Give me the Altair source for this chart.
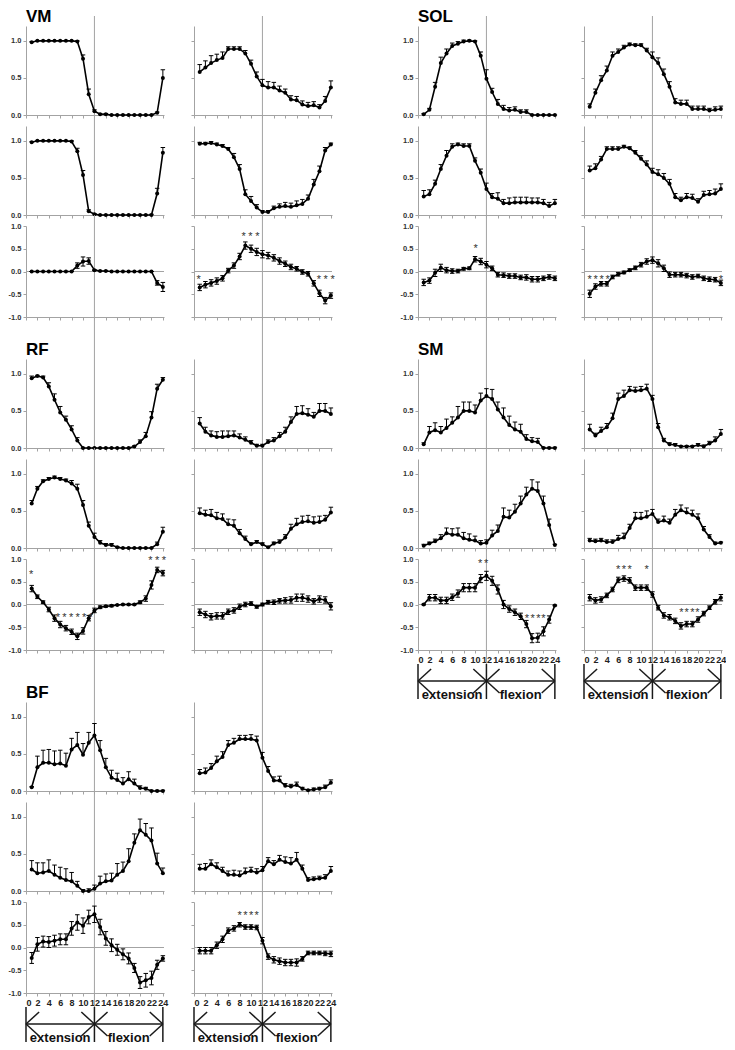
import altair as alt
import pandas as pd

# ---------------- data ----------------
X = list(range(1, 25))

# VM  (L = left column, R = right column; 1,2 = conditions, 3 = difference)
VM_L1 = [0.98,1.0,1.0,1.0,1.0,1.0,1.0,1.0,0.99,0.76,0.28,0.05,0.01,0.01,0.0,0.0,0.0,0.0,0.0,0.0,0.0,0.0,0.03,0.50]
VM_L1_E = [0.01,0.0,0.0,0.0,0.0,0.0,0.0,0.0,0.01,0.05,0.07,0.02,0.01,0.01,0.0,0.0,0.0,0.0,0.0,0.0,0.0,0.0,0.01,0.11]
VM_L2 = [0.98,1.0,1.0,1.0,1.0,1.0,1.0,0.99,0.86,0.54,0.05,0.01,0.0,0.0,0.0,0.0,0.0,0.0,0.0,0.0,0.0,0.0,0.29,0.84]
VM_L2_E = [0.01,0.0,0.0,0.0,0.0,0.0,0.0,0.01,0.04,0.06,0.02,0.01,0.0,0.0,0.0,0.0,0.0,0.0,0.0,0.0,0.0,0.01,0.07,0.07]
VM_L3 = [0.0,0.0,0.0,0.0,0.0,0.0,0.0,0.0,0.13,0.22,0.23,0.03,0.01,0.01,0.0,0.0,0.0,0.0,0.0,0.0,0.0,0.0,-0.25,-0.34]
VM_L3_E = [0.0,0.0,0.0,0.0,0.0,0.0,0.0,0.0,0.06,0.10,0.07,0.01,0.0,0.0,0.0,0.0,0.0,0.0,0.0,0.0,0.0,0.0,0.05,0.10]
VM_R1 = [0.58,0.64,0.70,0.74,0.77,0.89,0.89,0.89,0.83,0.69,0.52,0.40,0.37,0.37,0.33,0.30,0.21,0.20,0.14,0.12,0.13,0.10,0.19,0.37]
VM_R1_E = [0.10,0.09,0.10,0.08,0.08,0.03,0.03,0.03,0.04,0.05,0.06,0.08,0.08,0.07,0.06,0.05,0.05,0.05,0.05,0.05,0.05,0.04,0.06,0.09]
VM_R2 = [0.96,0.96,0.97,0.95,0.93,0.89,0.78,0.62,0.28,0.19,0.10,0.04,0.04,0.09,0.11,0.12,0.11,0.13,0.15,0.22,0.41,0.59,0.87,0.95]
VM_R2_E = [0.02,0.02,0.02,0.02,0.02,0.02,0.05,0.06,0.06,0.06,0.04,0.02,0.02,0.03,0.04,0.05,0.05,0.06,0.06,0.05,0.07,0.07,0.04,0.02]
VM_R3 = [-0.35,-0.29,-0.25,-0.21,-0.15,0.02,0.13,0.33,0.57,0.50,0.43,0.38,0.35,0.30,0.23,0.17,0.10,0.06,-0.01,-0.05,-0.26,-0.48,-0.64,-0.53]
VM_R3_E = [0.07,0.07,0.07,0.07,0.06,0.05,0.06,0.07,0.08,0.08,0.08,0.08,0.07,0.07,0.07,0.06,0.06,0.05,0.05,0.05,0.06,0.07,0.07,0.06]
VM_R3_STAR_X = [0.8, 8.7, 9.9, 11.1, 21.9, 23.1, 24.3]
VM_R3_STAR_Y = [-0.13, 0.82, 0.82, 0.82, -0.13, -0.13, -0.13]

# SOL
SOL_L1 = [0.01,0.07,0.38,0.70,0.83,0.93,0.96,0.99,1.0,0.99,0.80,0.49,0.31,0.15,0.08,0.06,0.07,0.04,0.04,0.0,0.0,0.0,0.0,0.0]
SOL_L1_E = [0.01,0.02,0.06,0.08,0.06,0.04,0.03,0.02,0.01,0.01,0.05,0.12,0.05,0.06,0.05,0.04,0.04,0.03,0.03,0.0,0.0,0.0,0.0,0.0]
SOL_L2 = [0.25,0.28,0.42,0.62,0.80,0.92,0.95,0.93,0.93,0.73,0.57,0.35,0.24,0.22,0.16,0.16,0.17,0.17,0.17,0.17,0.17,0.16,0.12,0.16]
SOL_L2_E = [0.08,0.06,0.05,0.06,0.07,0.04,0.02,0.03,0.03,0.04,0.05,0.08,0.05,0.08,0.05,0.07,0.07,0.07,0.07,0.06,0.06,0.05,0.05,0.05]
SOL_L3 = [-0.24,-0.20,-0.03,0.08,0.03,0.01,0.01,0.06,0.07,0.27,0.22,0.15,0.07,-0.07,-0.08,-0.10,-0.10,-0.13,-0.13,-0.17,-0.17,-0.15,-0.12,-0.15]
SOL_L3_E = [0.07,0.06,0.08,0.08,0.06,0.05,0.04,0.03,0.03,0.06,0.07,0.07,0.05,0.05,0.05,0.05,0.05,0.05,0.06,0.06,0.06,0.05,0.05,0.05]
SOL_L3_STAR_X = [10.1]
SOL_L3_STAR_Y = [0.57]
SOL_R1 = [0.11,0.30,0.47,0.60,0.80,0.85,0.91,0.95,0.94,0.94,0.87,0.78,0.70,0.55,0.38,0.17,0.15,0.15,0.08,0.08,0.08,0.06,0.07,0.08]
SOL_R1_E = [0.04,0.05,0.06,0.06,0.05,0.04,0.03,0.02,0.02,0.02,0.03,0.07,0.07,0.07,0.07,0.05,0.05,0.05,0.04,0.04,0.04,0.03,0.04,0.04]
SOL_R2 = [0.60,0.63,0.75,0.89,0.89,0.89,0.92,0.90,0.84,0.76,0.68,0.58,0.55,0.50,0.42,0.24,0.20,0.24,0.23,0.18,0.27,0.28,0.29,0.35]
SOL_R2_E = [0.06,0.06,0.04,0.03,0.03,0.03,0.02,0.02,0.03,0.04,0.05,0.05,0.06,0.06,0.06,0.05,0.04,0.05,0.05,0.04,0.05,0.05,0.06,0.07]
SOL_R3 = [-0.49,-0.33,-0.27,-0.27,-0.12,-0.06,-0.02,0.03,0.08,0.15,0.22,0.25,0.18,0.07,-0.07,-0.07,-0.07,-0.09,-0.12,-0.10,-0.15,-0.17,-0.18,-0.25]
SOL_R3_E = [0.08,0.06,0.05,0.05,0.04,0.04,0.03,0.03,0.04,0.05,0.06,0.07,0.08,0.07,0.06,0.05,0.05,0.05,0.05,0.04,0.05,0.05,0.05,0.06]
SOL_R3_STAR_X = [1.0, 2.05, 3.1, 4.15, 24.0]
SOL_R3_STAR_Y = [-0.12, -0.12, -0.12, -0.12, -0.12]

# RF
RF_L1 = [0.94,0.97,0.95,0.83,0.65,0.48,0.38,0.25,0.10,0.0,0.0,0.0,0.0,0.0,0.0,0.0,0.0,0.0,0.02,0.08,0.16,0.41,0.80,0.92]
RF_L1_E = [0.03,0.01,0.02,0.05,0.08,0.08,0.05,0.05,0.04,0.0,0.0,0.0,0.0,0.0,0.0,0.0,0.0,0.0,0.01,0.03,0.05,0.08,0.06,0.03]
RF_L2 = [0.60,0.80,0.90,0.93,0.95,0.93,0.91,0.87,0.80,0.58,0.30,0.15,0.07,0.04,0.04,0.01,0.0,0.0,0.0,0.0,0.0,0.0,0.05,0.22]
RF_L2_E = [0.04,0.03,0.02,0.02,0.02,0.02,0.02,0.04,0.06,0.06,0.05,0.05,0.03,0.02,0.02,0.01,0.0,0.0,0.0,0.0,0.0,0.0,0.03,0.06]
RF_L3 = [0.35,0.17,0.05,-0.11,-0.30,-0.44,-0.52,-0.60,-0.70,-0.58,-0.30,-0.13,-0.06,-0.04,-0.03,-0.01,0.0,0.0,0.0,0.05,0.13,0.43,0.76,0.69]
RF_L3_E = [0.07,0.04,0.03,0.05,0.07,0.07,0.06,0.06,0.07,0.07,0.06,0.05,0.03,0.02,0.02,0.01,0.01,0.01,0.01,0.03,0.06,0.09,0.06,0.06]
RF_L3_STAR_X = [0.9, 5.6, 6.75, 7.9, 9.05, 10.2, 11.35, 21.8, 23.0, 24.2]
RF_L3_STAR_Y = [0.71, -0.24, -0.24, -0.24, -0.24, -0.24, -0.24, 1.03, 1.03, 1.03]
RF_R1 = [0.33,0.22,0.17,0.15,0.15,0.16,0.17,0.14,0.11,0.07,0.03,0.03,0.08,0.10,0.16,0.22,0.35,0.46,0.47,0.45,0.42,0.50,0.50,0.46]
RF_R1_E = [0.08,0.06,0.06,0.07,0.08,0.07,0.06,0.05,0.04,0.03,0.02,0.02,0.03,0.04,0.05,0.06,0.07,0.10,0.10,0.08,0.06,0.10,0.10,0.08]
RF_R2 = [0.47,0.45,0.44,0.40,0.39,0.32,0.30,0.20,0.12,0.05,0.08,0.05,0.01,0.06,0.08,0.14,0.26,0.32,0.35,0.36,0.34,0.35,0.38,0.48]
RF_R2_E = [0.07,0.06,0.08,0.08,0.07,0.07,0.08,0.05,0.04,0.02,0.02,0.02,0.01,0.02,0.03,0.04,0.06,0.08,0.08,0.08,0.08,0.08,0.06,0.07]
RF_R3 = [-0.17,-0.22,-0.27,-0.25,-0.25,-0.16,-0.13,-0.05,0.0,0.02,-0.05,0.0,0.05,0.05,0.08,0.09,0.10,0.15,0.15,0.12,0.07,0.12,0.10,-0.04]
RF_R3_E = [0.07,0.07,0.07,0.07,0.07,0.06,0.06,0.06,0.05,0.04,0.03,0.03,0.04,0.05,0.05,0.06,0.07,0.08,0.08,0.07,0.06,0.07,0.07,0.08]

# SM
SM_L1 = [0.05,0.21,0.24,0.21,0.27,0.34,0.41,0.50,0.50,0.48,0.64,0.70,0.66,0.52,0.41,0.31,0.25,0.22,0.12,0.09,0.08,0.0,0.0,0.0]
SM_L1_E = [0.02,0.08,0.10,0.08,0.12,0.08,0.15,0.12,0.12,0.10,0.10,0.10,0.13,0.10,0.13,0.12,0.10,0.10,0.06,0.05,0.05,0.01,0.01,0.01]
SM_L2 = [0.03,0.06,0.09,0.13,0.20,0.18,0.18,0.13,0.11,0.10,0.06,0.07,0.17,0.23,0.42,0.41,0.49,0.60,0.72,0.80,0.77,0.60,0.31,0.04]
SM_L2_E = [0.02,0.02,0.03,0.05,0.07,0.08,0.09,0.08,0.08,0.06,0.04,0.04,0.07,0.08,0.12,0.10,0.10,0.10,0.10,0.12,0.12,0.10,0.08,0.01]
SM_L3 = [0.0,0.15,0.15,0.09,0.09,0.16,0.24,0.37,0.37,0.37,0.57,0.63,0.52,0.33,0.0,-0.10,-0.17,-0.26,-0.43,-0.74,-0.73,-0.59,-0.33,-0.02]
SM_L3_E = [0.01,0.07,0.07,0.07,0.07,0.07,0.08,0.09,0.09,0.09,0.09,0.10,0.10,0.10,0.09,0.07,0.07,0.07,0.08,0.10,0.10,0.10,0.08,0.01]
SM_L3_STAR_X = [10.9, 11.95, 19.1, 20.1, 21.1, 22.0]
SM_L3_STAR_Y = [0.95, 0.95, -0.25, -0.25, -0.25, -0.25]
SM_R1 = [0.25,0.17,0.23,0.28,0.40,0.66,0.70,0.78,0.77,0.78,0.80,0.66,0.28,0.10,0.05,0.04,0.02,0.02,0.02,0.04,0.02,0.06,0.10,0.19]
SM_R1_E = [0.07,0.03,0.05,0.05,0.07,0.08,0.08,0.05,0.05,0.05,0.06,0.05,0.05,0.03,0.02,0.02,0.01,0.01,0.01,0.02,0.02,0.03,0.05,0.06]
SM_R2 = [0.10,0.09,0.10,0.08,0.08,0.12,0.14,0.27,0.40,0.40,0.42,0.46,0.35,0.37,0.34,0.45,0.51,0.48,0.45,0.40,0.25,0.15,0.06,0.07]
SM_R2_E = [0.03,0.03,0.03,0.03,0.03,0.05,0.06,0.05,0.08,0.08,0.08,0.06,0.04,0.06,0.05,0.07,0.07,0.06,0.06,0.06,0.04,0.03,0.02,0.01]
SM_R3 = [0.15,0.09,0.11,0.20,0.33,0.54,0.57,0.53,0.37,0.37,0.37,0.22,-0.07,-0.24,-0.28,-0.36,-0.47,-0.43,-0.43,-0.33,-0.20,-0.07,0.06,0.15]
SM_R3_E = [0.07,0.06,0.06,0.05,0.05,0.06,0.06,0.06,0.06,0.06,0.06,0.06,0.05,0.06,0.06,0.06,0.07,0.06,0.06,0.06,0.05,0.04,0.05,0.07]
SM_R3_STAR_X = [6.0, 7.0, 8.0, 11.0, 17.1, 18.0, 19.0, 19.9]
SM_R3_STAR_Y = [0.82, 0.82, 0.82, 0.82, -0.12, -0.12, -0.12, -0.12]

# BF
BF_L1 = [0.05,0.32,0.38,0.38,0.36,0.37,0.34,0.56,0.62,0.49,0.65,0.75,0.55,0.32,0.18,0.15,0.10,0.16,0.10,0.04,0.03,0.0,0.0,0.0]
BF_L1_E = [0.01,0.15,0.17,0.18,0.18,0.18,0.17,0.15,0.17,0.15,0.14,0.16,0.13,0.12,0.10,0.09,0.08,0.10,0.06,0.03,0.02,0.01,0.01,0.01]
BF_L2 = [0.29,0.24,0.25,0.27,0.22,0.18,0.15,0.13,0.07,0.0,0.0,0.03,0.10,0.13,0.14,0.22,0.27,0.40,0.65,0.82,0.76,0.68,0.37,0.24]
BF_L2_E = [0.12,0.14,0.13,0.15,0.13,0.14,0.15,0.12,0.06,0.02,0.03,0.05,0.10,0.10,0.10,0.15,0.12,0.17,0.12,0.15,0.15,0.17,0.14,0.07]
BF_L3 = [-0.23,0.07,0.13,0.12,0.15,0.18,0.18,0.42,0.55,0.48,0.67,0.73,0.45,0.20,0.05,-0.05,-0.15,-0.24,-0.45,-0.77,-0.72,-0.67,-0.38,-0.24]
BF_L3_E = [0.12,0.15,0.12,0.12,0.12,0.12,0.12,0.15,0.17,0.17,0.15,0.18,0.17,0.15,0.14,0.12,0.12,0.12,0.10,0.13,0.15,0.15,0.10,0.06]
BF_R1 = [0.24,0.25,0.31,0.40,0.46,0.62,0.65,0.70,0.70,0.70,0.68,0.45,0.27,0.14,0.14,0.07,0.06,0.08,0.03,0.01,0.02,0.03,0.05,0.11]
BF_R1_E = [0.05,0.06,0.06,0.07,0.07,0.06,0.06,0.05,0.05,0.06,0.06,0.07,0.06,0.05,0.06,0.03,0.03,0.04,0.02,0.01,0.02,0.02,0.03,0.04]
BF_R2 = [0.30,0.30,0.36,0.32,0.27,0.22,0.22,0.21,0.25,0.27,0.25,0.28,0.40,0.36,0.42,0.39,0.37,0.42,0.30,0.15,0.16,0.17,0.18,0.27]
BF_R2_E = [0.06,0.07,0.06,0.06,0.05,0.05,0.06,0.06,0.06,0.05,0.05,0.05,0.05,0.05,0.06,0.07,0.08,0.10,0.05,0.03,0.03,0.03,0.04,0.06]
BF_R3 = [-0.07,-0.07,-0.07,0.05,0.18,0.37,0.42,0.50,0.45,0.45,0.44,0.15,-0.20,-0.27,-0.30,-0.33,-0.33,-0.33,-0.25,-0.12,-0.12,-0.12,-0.13,-0.14]
BF_R3_E = [0.07,0.07,0.07,0.07,0.07,0.06,0.06,0.05,0.05,0.05,0.05,0.07,0.06,0.07,0.07,0.07,0.07,0.08,0.05,0.04,0.04,0.04,0.05,0.06]
BF_R3_STAR_X = [8.0, 9.0, 10.0, 11.0]
BF_R3_STAR_Y = [0.75, 0.75, 0.75, 0.75]

PHASE_BOUNDS = [0, 12, 24]
PHASES = ["extension", "flexion"]
X_TICKS = list(range(0, 25, 2))

# ---------------- styling / layout ----------------
GRAY = "#a3a3a3"
FONT = "Liberation Sans"
PW = 138
H12 = 89
H3 = 91
ROW_GAP = 11
ANN_H = 50
XDOM = [0, 24.2]
YLAB = "datum.value < 0 ? '-' + format(-datum.value, '.1f') : format(datum.value, '.1f')"
SPACER_DF = pd.DataFrame({"a": [0]})


def spacer(w, h):
    return alt.Chart(SPACER_DF).mark_point(opacity=0, size=1).encode(
        x=alt.X("a:Q", axis=None), y=alt.Y("a:Q", axis=None)
    ).properties(width=w, height=h)


def panel(mean, err, row, ylabels, xlabels, gap_above, title=None, sx=None, sy=None):
    h = H12 if row < 3 else H3
    ydom = [0, 1.2] if row < 3 else [-1, 1]
    yvals = [0, 0.5, 1] if row < 3 else [-1, -0.5, 0, 0.5, 1]
    xs = alt.Scale(domain=XDOM, nice=False, zero=False)
    ys = alt.Scale(domain=ydom, nice=False, zero=False)
    xax = alt.Axis(values=X_TICKS, labels=xlabels, title=None, grid=False,
                   domainColor=GRAY, tickColor=GRAY, tickSize=3, labelFont=FONT,
                   labelFontSize=9, labelFontWeight="bold", labelColor="#222",
                   labelPadding=2)
    yax = alt.Axis(values=yvals, labels=ylabels, title=None, grid=False,
                   domainColor=GRAY, tickColor=GRAY, tickSize=3, labelFont=FONT,
                   labelFontSize=7.5, labelFontWeight="bold", labelColor="#333",
                   labelPadding=2, labelExpr=YLAB)
    d = pd.DataFrame({"x": X, "v": mean, "e": err})
    d["hi"] = d["v"] + d["e"]
    d["lo"] = d["v"] - d["e"] if row == 3 else d["v"]
    xe = alt.X("x:Q", scale=xs, axis=xax)
    base = alt.Chart(d)
    layers = [
        alt.Chart(pd.DataFrame({"x": [12]})).mark_rule(color=GRAY, strokeWidth=1).encode(
            x=xe, y=alt.value(-gap_above), y2=alt.value(h))
    ]
    if row == 3:
        layers.append(alt.Chart(pd.DataFrame({"z": [0]})).mark_rule(color=GRAY, strokeWidth=1).encode(
            y=alt.Y("z:Q", scale=ys, axis=yax)))
    layers.append(base.mark_rule(color="black", strokeWidth=1).encode(
        x=xe, y=alt.Y("lo:Q", scale=ys, axis=yax), y2="hi:Q"))
    layers.append(base.mark_tick(color="black", orient="horizontal", size=4.5, thickness=1, opacity=1).encode(
        x=xe, y=alt.Y("hi:Q", scale=ys, axis=yax)))
    if row == 3:
        layers.append(base.mark_tick(color="black", orient="horizontal", size=4.5, thickness=1, opacity=1).encode(
            x=xe, y=alt.Y("lo:Q", scale=ys, axis=yax)))
    layers.append(base.mark_line(color="black", strokeWidth=1.6).encode(
        x=xe, y=alt.Y("v:Q", scale=ys, axis=yax)))
    layers.append(base.mark_circle(color="black", size=16, opacity=1).encode(
        x=xe, y=alt.Y("v:Q", scale=ys, axis=yax)))
    if sx:
        sd = pd.DataFrame({"x": sx, "y": sy, "s": ["*"] * len(sx)})
        layers.append(alt.Chart(sd).mark_text(fontSize=11, font=FONT, color="#333",
                                              baseline="alphabetic", dy=6).encode(
            x=xe, y=alt.Y("y:Q", scale=ys, axis=yax), text="s:N"))
    if title:
        layers.append(alt.Chart(pd.DataFrame({"t": [title]})).mark_text(
            align="left", baseline="alphabetic", fontSize=17, fontWeight="bold",
            font=FONT, color="black").encode(x=alt.value(0), y=alt.value(-4), text="t:N"))
    return alt.layer(*layers).properties(width=PW, height=h)


def annotation():
    xs = alt.Scale(domain=XDOM, nice=False, zero=False)
    ys = alt.Scale(domain=[ANN_H, 0], nice=False, zero=False)
    mid, top, bot, hx, hy = 31, 14, 49, 2.3, 12
    segs = [(PHASE_BOUNDS[0], mid, PHASE_BOUNDS[-1], mid)]
    for b in PHASE_BOUNDS:
        segs.append((b, top, b, bot))
    for a, b in zip(PHASE_BOUNDS[:-1], PHASE_BOUNDS[1:]):
        for s in (-1, 1):
            segs.append((a, mid, a + hx, mid + s * hy))
            segs.append((b, mid, b - hx, mid + s * hy))
    sd = pd.DataFrame(segs, columns=["x", "y", "x2", "y2"])
    xe = alt.X("x:Q", scale=xs, axis=None)
    gl = alt.Chart(pd.DataFrame({"x": [12]})).mark_rule(color=GRAY, strokeWidth=1).encode(
        x=xe, y=alt.value(0), y2=alt.value(top))
    ar = alt.Chart(sd).mark_rule(color="#1a1a1a", strokeWidth=1.5).encode(
        x=xe, y=alt.Y("y:Q", scale=ys, axis=None), x2="x2:Q", y2="y2:Q")
    centers = [(a + b) / 2 for a, b in zip(PHASE_BOUNDS[:-1], PHASE_BOUNDS[1:])]
    td = pd.DataFrame({"x": centers, "t": PHASES})
    tx = alt.Chart(td).mark_text(fontSize=13, fontWeight="bold", font=FONT, color="#111",
                                 baseline="middle").encode(x=xe, y=alt.value(45), text="t:N")
    return alt.layer(gl, ar, tx).properties(width=PW, height=ANN_H)


MUSCLES = {
    "VM": ([(VM_L1, VM_L1_E), (VM_L2, VM_L2_E), (VM_L3, VM_L3_E)],
           [(VM_R1, VM_R1_E), (VM_R2, VM_R2_E), (VM_R3, VM_R3_E)],
           {("R", 3): (VM_R3_STAR_X, VM_R3_STAR_Y)}),
    "RF": ([(RF_L1, RF_L1_E), (RF_L2, RF_L2_E), (RF_L3, RF_L3_E)],
           [(RF_R1, RF_R1_E), (RF_R2, RF_R2_E), (RF_R3, RF_R3_E)],
           {("L", 3): (RF_L3_STAR_X, RF_L3_STAR_Y)}),
    "BF": ([(BF_L1, BF_L1_E), (BF_L2, BF_L2_E), (BF_L3, BF_L3_E)],
           [(BF_R1, BF_R1_E), (BF_R2, BF_R2_E), (BF_R3, BF_R3_E)],
           {("R", 3): (BF_R3_STAR_X, BF_R3_STAR_Y)}),
    "SOL": ([(SOL_L1, SOL_L1_E), (SOL_L2, SOL_L2_E), (SOL_L3, SOL_L3_E)],
            [(SOL_R1, SOL_R1_E), (SOL_R2, SOL_R2_E), (SOL_R3, SOL_R3_E)],
            {("L", 3): (SOL_L3_STAR_X, SOL_L3_STAR_Y), ("R", 3): (SOL_R3_STAR_X, SOL_R3_STAR_Y)}),
    "SM": ([(SM_L1, SM_L1_E), (SM_L2, SM_L2_E), (SM_L3, SM_L3_E)],
           [(SM_R1, SM_R1_E), (SM_R2, SM_R2_E), (SM_R3, SM_R3_E)],
           {("L", 3): (SM_L3_STAR_X, SM_L3_STAR_Y), ("R", 3): (SM_R3_STAR_X, SM_R3_STAR_Y)}),
}


def group_rows(names, gaps):
    """Sequence of grid rows for one group of muscles (each: kind, payload, height)."""
    rows = []
    for i, nm in enumerate(names):
        if i > 0:
            rows.append(("gap", None, gaps[i - 1]))
        for r in (1, 2, 3):
            if r > 1:
                rows.append(("gap", None, ROW_GAP))
            ga = (10 if i == 0 else gaps[i - 1]) if r == 1 else ROW_GAP
            rows.append(("panel", (nm, r, ga, i == len(names) - 1), H12 if r < 3 else H3))
    rows.append(("ann", None, ANN_H))
    return rows


def cells_for(row):
    kind, payload, h = row
    if kind == "gap":
        return [spacer(1, h), spacer(1, h)]
    if kind == "ann":
        return [annotation(), annotation()]
    nm, r, ga, last = payload
    L, R, st = MUSCLES[nm]
    lsx, lsy = st.get(("L", r), (None, None))
    rsx, rsy = st.get(("R", r), (None, None))
    lp = panel(L[r - 1][0], L[r - 1][1], r, True, last and r == 3, ga,
               title=nm if r == 1 else None, sx=lsx, sy=lsy)
    rp = panel(R[r - 1][0], R[r - 1][1], r, False, last and r == 3, ga, sx=rsx, sy=rsy)
    return [lp, rp]


left_rows = group_rows(["VM", "RF", "BF"], [42, 52])
right_rows = group_rows(["SOL", "SM"], [42])
GAPS_COL = [30, 86, 28]

cells = []
for i, lrow in enumerate(left_rows):
    lc = cells_for(lrow)
    if i < len(right_rows):
        rc = cells_for(right_rows[i])
    else:
        rc = [spacer(1, 1), spacer(1, 1)]
    cells += [lc[0], spacer(GAPS_COL[0], 1), lc[1], spacer(GAPS_COL[1], 1),
              rc[0], spacer(GAPS_COL[2], 1), rc[1]]

chart = alt.concat(*cells, columns=7, spacing=0, bounds="flush").properties(
    padding=0, background="white"
).configure_view(stroke=None)

chart.save("out.html", embed_options={"renderer": "svg", "actions": False})
